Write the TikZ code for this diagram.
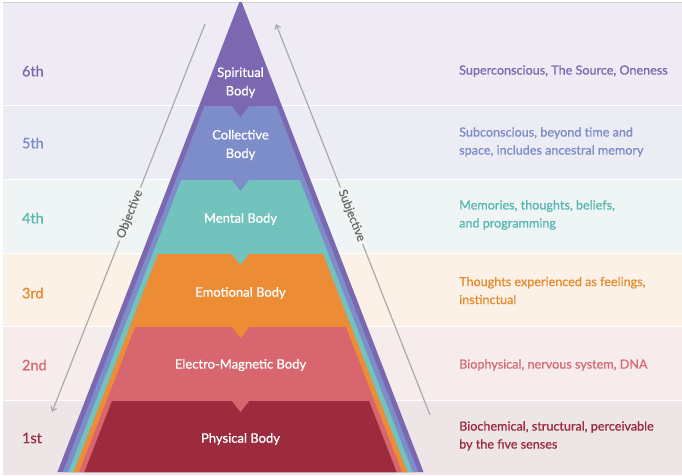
\documentclass[tikz,border=0pt]{standalone}
\usepackage{fontspec}
\setmainfont{Lato}
\newfontfamily\medfont[FakeBold=0.7]{Lato}
\usetikzlibrary{arrows.meta}
\definecolor{bandsix}{HTML}{EEEBF4}
\definecolor{bandfive}{HTML}{ECECF5}
\definecolor{bandfour}{HTML}{EEF5F4}
\definecolor{bandthree}{HTML}{FCF1E6}
\definecolor{bandtwo}{HTML}{F6ECEC}
\definecolor{bandone}{HTML}{EEE6E6}
\definecolor{pyrsix}{HTML}{7C68B0}
\definecolor{pyrfive}{HTML}{7D8DC9}
\definecolor{pyrfour}{HTML}{72C3BD}
\definecolor{pyrthree}{HTML}{EC8C35}
\definecolor{pyrtwo}{HTML}{D8666F}
\definecolor{pyrone}{HTML}{9B2B3D}
\definecolor{txtsix}{HTML}{7A68AE}
\definecolor{txtfive}{HTML}{7B8CC6}
\definecolor{txtfour}{HTML}{55B7AF}
\definecolor{txtthree}{HTML}{E58B2E}
\definecolor{txttwo}{HTML}{D46A75}
\definecolor{txtone}{HTML}{9A2A3D}
\definecolor{arrowgrey}{HTML}{AAAAAA}
\definecolor{labelgrey}{HTML}{6A6A6A}
\newcommand{\pyrlayer}[3]{%
  \pgfmathsetmacro{\hwt}{0.387*(#2+1)-5.4*#1}%
  \pgfmathsetmacro{\hwb}{0.387*473-5.4*#1}%
  \fill[#3] (240.5-\hwt,#2) -- (240.5+\hwt,#2) -- (240.5+\hwb,472) -- (240.5-\hwb,472) -- cycle;}
\newcommand{\pyrnotch}[2]{%
  \fill[#2] (231.5,#1-0.5) -- (249.5,#1-0.5) -- (240.5,#1+11) -- cycle;}
\tikzset{
  rank/.style={anchor=west, font=\medfont\fontsize{14.5}{16}\selectfont},
  desc/.style={anchor=west, align=left, font=\medfont\fontsize{12.6}{18}\selectfont, inner sep=0pt},
  body/.style={text=white, align=center, font=\medfont\fontsize{13}{18.5}\selectfont, inner sep=0pt},
  flow/.style={draw=arrowgrey, line width=1.2pt},
  flowlabel/.style={sloped, text=labelgrey, fill=bandfour, font=\medfont\fontsize{12}{14}\selectfont, inner sep=3pt}
}
\begin{document}
\begin{tikzpicture}[x=1pt,y=-1pt]
\useasboundingbox (0,0) rectangle (682,475);
\fill[white] (0,0) rectangle (682,475);
% bands
\fill[bandsix] (3,2.5) rectangle (682,105);
\fill[bandfive] (3,106) rectangle (682,179);
\fill[bandfour] (3,180) rectangle (682,252.5);
\fill[bandthree] (3,253.5) rectangle (682,326);
\fill[bandtwo] (3,327) rectangle (682,400);
\fill[bandone] (3,401) rectangle (682,475);
\draw[black!18, line width=0.8pt] (3,2) -- (682,2);
% pyramid
\begin{scope}
\clip (0,2) rectangle (682,475);
\fill[pyrsix] (240.5,-1) -- (423.55,472) -- (57.45,472) -- cycle;
\pyrlayer{1}{106}{pyrfive}
\pyrnotch{106}{pyrsix}
\pyrlayer{2}{180}{pyrfour}
\pyrnotch{180}{pyrfive}
\pyrlayer{3}{254}{pyrthree}
\pyrnotch{254}{pyrfour}
\pyrlayer{4}{327}{pyrtwo}
\pyrnotch{327}{pyrthree}
\pyrlayer{5}{401}{pyrone}
\pyrnotch{401}{pyrtwo}
\end{scope}
% body labels
\node[body] (spiritual) at (240.5,82.5) {Spiritual\\Body};
\node[body] (collective) at (240.5,145) {Collective\\Body};
\node[body] (mental) at (240.5,219) {Mental Body};
\node[body] (emotional) at (240.5,293) {Emotional Body};
\node[body] (electro) at (240.5,365) {Electro-Magnetic Body};
\node[body] (physical) at (240.5,439) {Physical Body};
% rank labels
\node[rank, text=txtsix] (r6) at (18.5,71) {6th};
\node[rank, text=txtfive] (r5) at (18.5,143) {5th};
\node[rank, text=txtfour] (r4) at (18.5,218) {4th};
\node[rank, text=txtthree] (r3) at (18.5,293) {3rd};
\node[rank, text=txttwo] (r2) at (18.5,365) {2nd};
\node[rank, text=txtone] (r1) at (18.5,438) {1st};
% descriptions
\node[desc, text=txtsix] (d6) at (459,71) {Superconscious, The Source, Oneness};
\node[desc, text=txtfive] (d5) at (459,142) {Subconscious, beyond time and\\space, includes ancestral memory};
\node[desc, text=txtfour] (d4) at (459,215) {Memories, thoughts, beliefs,\\and programming};
\node[desc, text=txtthree] (d3) at (459,290.5) {Thoughts experienced as feelings,\\instinctual};
\node[desc, text=txttwo] (d2) at (459,365) {Biophysical, nervous system, DNA};
\node[desc, text=txtone] (d1) at (459,436) {Biochemical, structural, perceivable\\by the five senses};
% arrows
\coordinate (objtop) at (205,24);
\coordinate (objbot) at (52,412);
\coordinate (subbot) at (430,415);
\coordinate (subtop) at (276,24);
\draw[flow, -{Straight Barb[length=4pt,width=6pt]}] (objtop) -- node[flowlabel, pos=0.49] (objective) {Objective} (objbot);
\draw[flow, -{Straight Barb[length=4pt,width=6pt]}] (subbot) -- node[flowlabel, pos=0.51] (subjective) {Subjective} (subtop);
\end{tikzpicture}
\end{document}
